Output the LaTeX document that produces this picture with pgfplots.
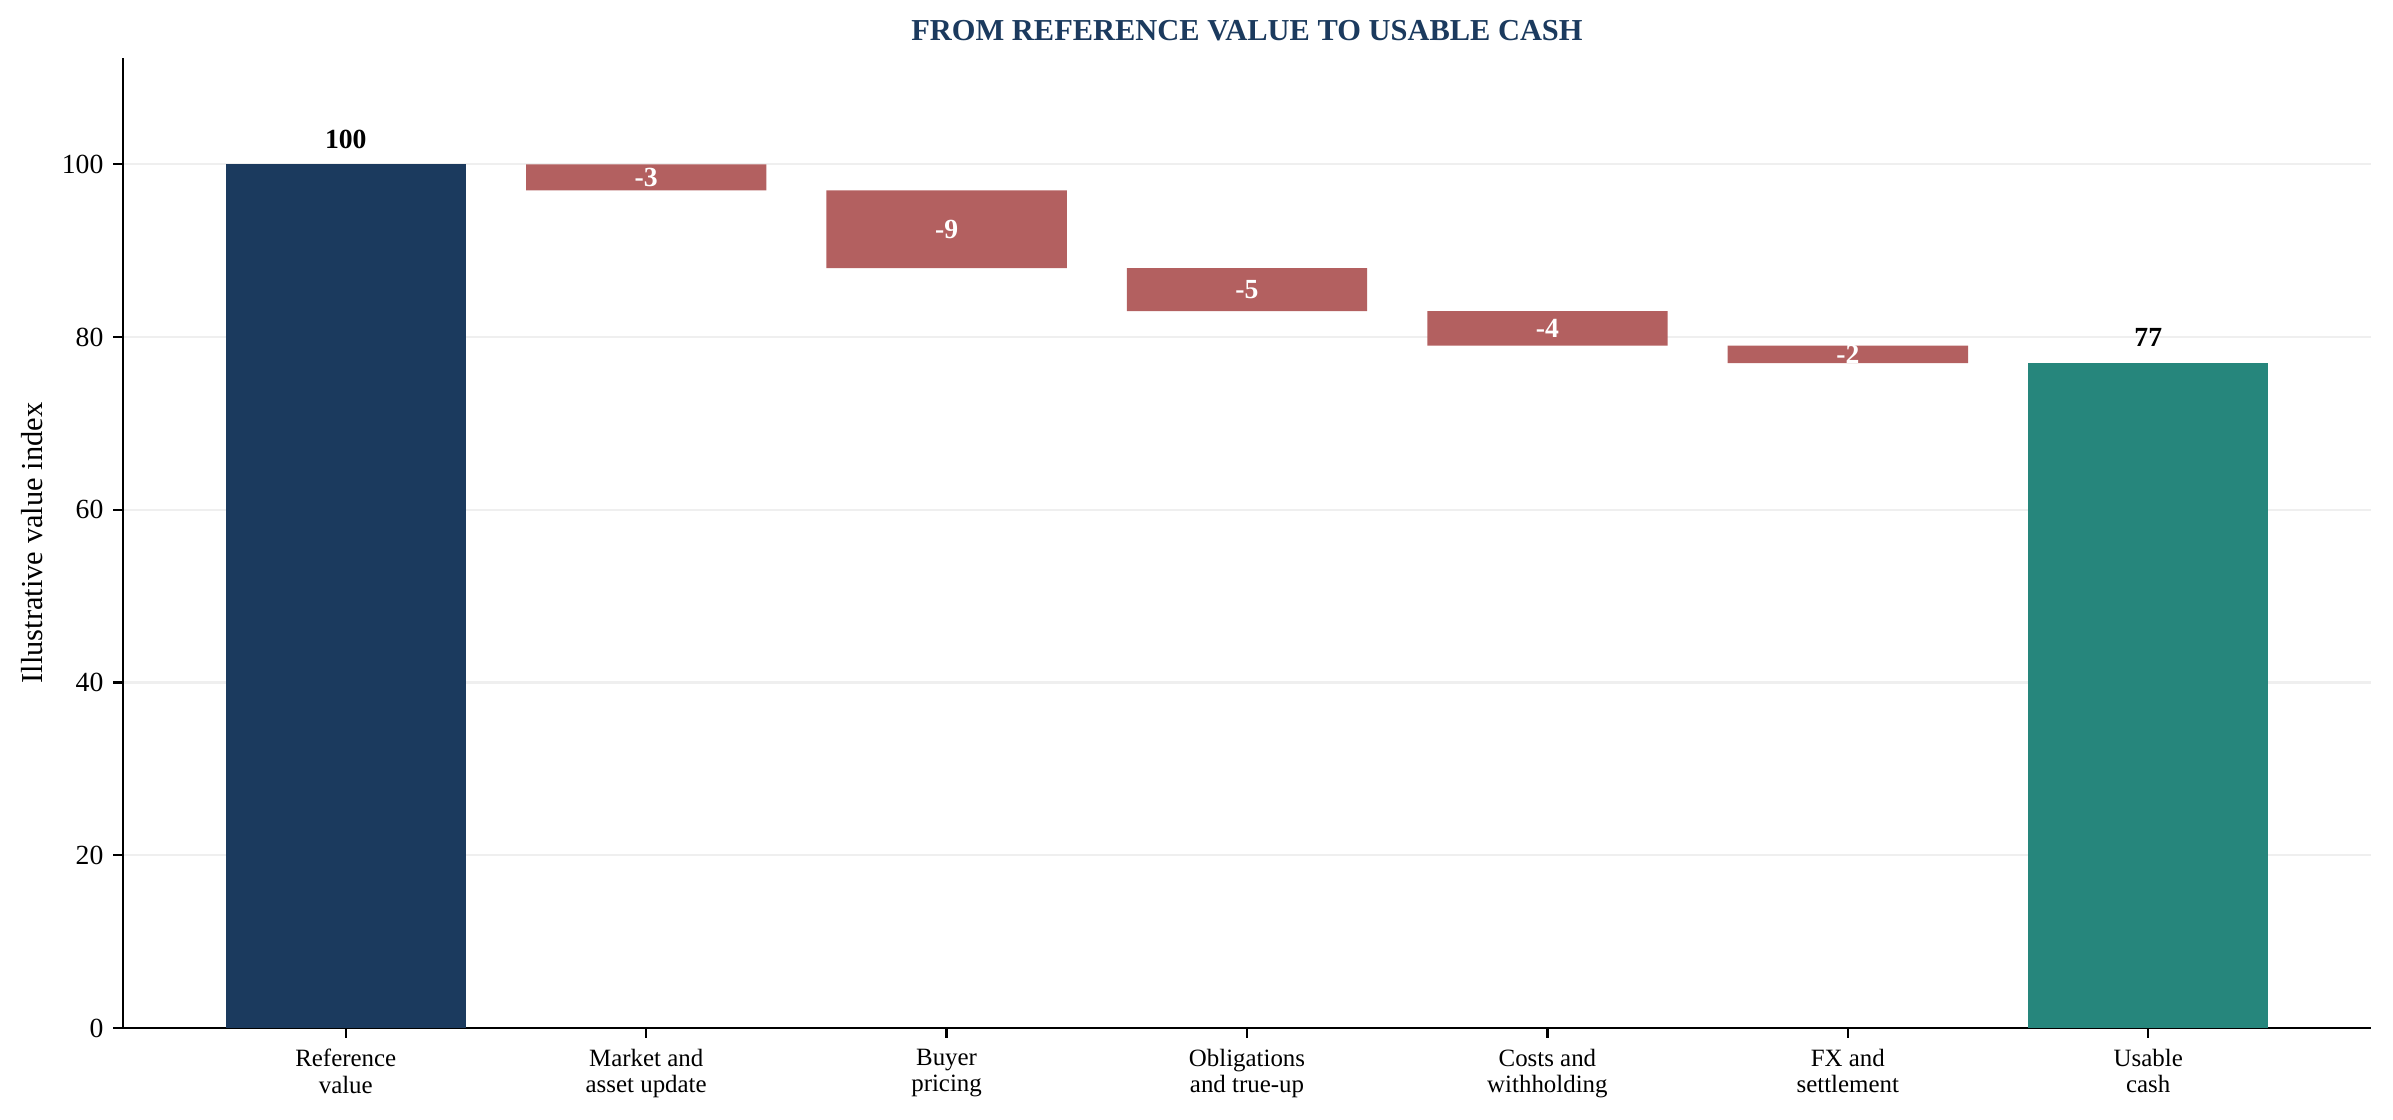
\documentclass[border=0pt]{standalone}
\usepackage{fontspec}
\setmainfont{Liberation Serif}
\usepackage{pgfplots}
\usepackage{pgfplotstable}
\pgfplotsset{compat=1.18}
\definecolor{navy}{HTML}{1B3A5E}
\definecolor{wred}{HTML}{B36060}
\definecolor{wteal}{HTML}{26867C}
\definecolor{gridc}{HTML}{EFEFEF}

\pgfplotstableread{
x base start red final
0 0 100 0 0
1 97 0 3 0
2 88 0 9 0
3 83 0 5 0
4 79 0 4 0
5 77 0 2 0
6 0 0 0 77
}\bars

\pgfplotstableread{
x y lab
0 100 100
6 77 77
}\totals

\pgfplotstableread{
x y lab
1 98.5 -3
2 92.5 -9
3 85.5 -5
4 81 -4
5 78 -2
}\deltas

\pgfplotsset{wfall/.style={
  scale only axis, width=812.4pt, height=350.5pt,
  xmin=-0.742, xmax=6.742, ymin=0, ymax=112.3,
  at={(0,0)}, anchor=south west}}

\begin{document}
\begin{tikzpicture}
\path[use as bounding box] (-44.4pt,-33.2pt) rectangle (820.3pt,371.5pt);
\begin{axis}[wfall,
  ybar stacked, bar width=0.8,
  axis lines*=left,
  axis line style={black, line width=0.8pt, -},
  xtick={0,...,6},
  xticklabels={{Reference\\value},{Market and\\asset update},{Buyer\\pricing},{Obligations\\and true-up},{Costs and\\withholding},{FX and\\settlement},{Usable\\cash}},
  xticklabel style={align=center, font=\fontsize{9}{9.5}\selectfont, yshift=-0.6pt},
  ytick={0,20,...,100},
  ymajorgrids, grid style={gridc, line width=0.8pt},
  tick align=outside, major tick length=3.5pt,
  tick style={black, line width=0.8pt},
  yticklabel style={font=\fontsize{10}{12}\selectfont},
  /pgf/number format/assume math mode=true,
  ylabel={Illustrative value index},
  ylabel style={font=\fontsize{11}{13}\selectfont, at={(axis description cs:-0.0403,0.5)}, anchor=center},
  title={FROM REFERENCE VALUE TO USABLE CASH},
  title style={font=\bfseries\fontsize{11}{13}\selectfont, text=navy, at={(axis description cs:0.5,1)}, anchor=base, yshift=0.4pt},
]
\addplot[draw=none, fill=none] table[x=x, y=base]{\bars};
\addplot[draw=none, fill=navy] table[x=x, y=start]{\bars};
\addplot[draw=none, fill=wred] table[x=x, y=red]{\bars};
\addplot[draw=none, fill=wteal] table[x=x, y=final]{\bars};
\end{axis}
\begin{axis}[wfall, hide axis, clip=false]
\addplot[draw=none, mark=none, nodes near coords, point meta=explicit symbolic,
  nodes near coords style={anchor=base, yshift=5.8pt, text=black, font=\bfseries\fontsize{10}{12}\selectfont}]
  table[x=x, y=y, meta=lab]{\totals};
\addplot[draw=none, mark=none, nodes near coords, point meta=explicit symbolic,
  nodes near coords style={anchor=center, text=white, font=\bfseries\fontsize{10}{12}\selectfont}]
  table[x=x, y=y, meta=lab]{\deltas};
\end{axis}
\end{tikzpicture}
\end{document}
